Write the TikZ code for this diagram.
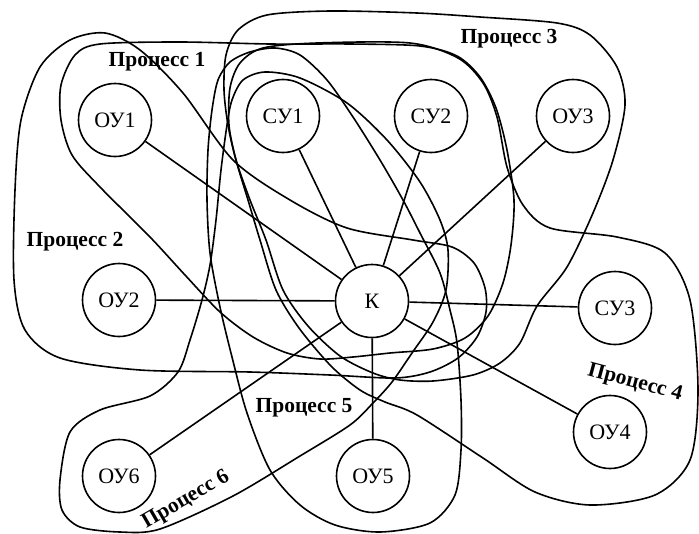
\documentclass[tikz,border=0pt]{standalone}
\usepackage{fontspec}
\setmainfont{Liberation Serif}
\begin{document}
\begin{tikzpicture}[x=1pt,y=-1pt,
  unit/.style={circle,draw,line width=1.6pt,fill=white,minimum size=73pt,inner sep=0pt,font=\fontsize{22}{25}\selectfont},
  proc/.style={line width=1.6pt},
  link/.style={line width=1.6pt},
  plabel/.style={font=\bfseries\fontsize{21.5}{24}\selectfont,inner sep=0pt}]
\useasboundingbox (0,0) rectangle (699,533);

% Process 2
\draw[proc] plot[smooth cycle] coordinates {(105,33) (140,50) (183,93) (233,160) (290,200) (347,228) (413,240) (452,247) (474,263) (485,288) (486,312) (477,337) (458,358) (430,372) (395,378) (330,375) (250,372) (140,370) (60,358) (25,330) (14,280) (15,190) (21,120) (40,67) (70,40)};
% Process 1
\draw[proc] plot[smooth cycle] coordinates {(75,55) (100,44) (180,42) (270,44) (350,44) (420,46) (457,56) (480,77) (496,108) (507,150) (514,200) (511,245) (503,283) (488,316) (465,338) (433,349) (390,353) (353,357) (320,359) (287,353) (253,337) (220,312) (185,275) (150,237) (100,187) (72,155) (61,120) (61,85)};
% Process 4
\draw[proc] plot[smooth cycle] coordinates {(229,125) (230,88) (240,63) (263,48) (317,43) (410,43) (458,58) (483,83) (497,117) (507,167) (523,205) (550,228) (617,237) (665,253) (690,300) (698,390) (690,460) (655,495) (590,505) (535,492) (483,458) (417,415) (385,402) (360,390) (331,366) (299,328) (276,290) (260,240) (248,200) (236,160)};
% Process 3
\draw[proc] plot[smooth cycle] coordinates {(520,343) (537,306) (567,267) (593,213) (613,160) (625,105) (617,67) (590,35) (557,23) (480,17) (417,13) (330,11) (267,15) (238,30) (226,55) (224,90) (228,125) (236,160) (250,200) (266,240) (283,290) (308,326) (340,356) (373,373) (400,380) (433,381) (473,375) (500,363)};
% Process 5
\draw[proc] plot[smooth cycle] coordinates {(380,532) (430,523) (455,495) (461,450) (461,400) (457,343) (450,310) (440,273) (420,233) (403,200) (380,160) (353,117) (327,80) (300,55) (275,48) (250,52) (230,62) (218,80) (212,110) (208,150) (207,200) (210,253) (220,307) (232,357) (247,413) (270,470) (300,505) (335,525)};
% Process 6
\draw[proc] plot[smooth cycle] coordinates {(60,480) (62,510) (80,527) (120,532) (160,529) (233,496) (300,456) (350,425) (373,403) (392,382) (412,353) (433,322) (446,290) (448,250) (440,220) (420,182) (387,140) (347,103) (300,78) (265,72) (243,80) (232,100) (227,125) (221,170) (216,220) (210,265) (202,300) (190,340) (178,372) (150,396) (100,410) (70,432)};

% units
\node[unit] (OU1) at (115,120) {ОУ1};
\node[unit] (SU1) at (283,116) {СУ1};
\node[unit] (SU2) at (431,116) {СУ2};
\node[unit] (OU3) at (573,116) {ОУ3};
\node[unit] (OU2) at (119,300) {ОУ2};
\node[unit] (K)   at (372,301) {К};
\node[unit] (SU3) at (615,308) {СУ3};
\node[unit] (OU4) at (610,432) {ОУ4};
\node[unit] (OU6) at (119,476) {ОУ6};
\node[unit] (OU5) at (373,476) {ОУ5};

\foreach \n in {OU1,SU1,SU2,OU3,OU2,SU3,OU4,OU5,OU6}
  \draw[link] (K) -- (\n);

% labels
\node[plabel] (l1) at (157,62) {Процесс 1};
\node[plabel] (l2) at (75,242) {Процесс 2};
\node[plabel] (l3) at (509,39) {Процесс 3};
\node[plabel,rotate=-15] (l4) at (635,383) {Процесс 4};
\node[plabel] (l5) at (304,408) {Процесс 5};
\node[plabel,rotate=30] (l6) at (186,500) {Процесс 6};
\end{tikzpicture}
\end{document}
